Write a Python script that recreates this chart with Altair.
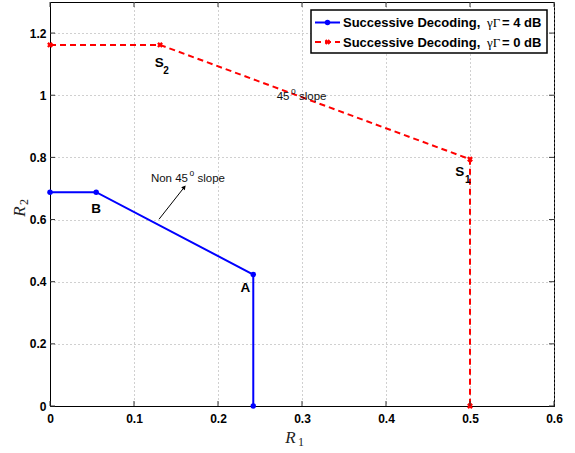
import altair as alt
import pandas as pd

# ---- data ----
blue_r1 = [0.0, 0.055, 0.242, 0.242]
blue_r2 = [0.688, 0.688, 0.423, 0.0]
red_r1 = [0.0, 0.131, 0.5, 0.5]
red_r2 = [1.162, 1.162, 0.794, 0.0]
x_ticks = [0, 0.1, 0.2, 0.3, 0.4, 0.5, 0.6]
y_ticks = [0, 0.2, 0.4, 0.6, 0.8, 1.0, 1.2]
legend_prefix = ["Successive Decoding,", "Successive Decoding,"]
legend_greek = ["γΓ", "γΓ"]
legend_suffix = ["= 4 dB", "= 0 dB"]

# point labels (data coordinates)
lab_text = ["A", "B", "S", "S"]
lab_x = [0.2325, 0.0548, 0.1301, 0.4877]
lab_y = [0.366, 0.6215, 1.091, 0.7395]
sub_text = ["2", "1"]
sub_x = [0.1349, 0.494]
sub_y = [1.0697, 0.716]

W, H = 504, 404
xs = alt.Scale(domain=[0, 0.6], nice=False, zero=False)
ys = alt.Scale(domain=[0, 1.3], nice=False, zero=False)
ax_x = alt.Axis(values=x_ticks, format="~g", title=None, grid=True, ticks=False,
                tickSize=0, labelPadding=7, labelFont="Liberation Sans",
                labelFontWeight="bold", labelFontSize=12, labelColor="black",
                gridColor="#a0a0a0", gridDash=[1, 3], gridWidth=1,
                domainColor="black", domainWidth=1, labelFlush=False)
ax_y = alt.Axis(values=y_ticks, format="~g", title=None, grid=True, ticks=False,
                tickSize=0, labelPadding=4, labelFont="Liberation Sans",
                labelFontWeight="bold", labelFontSize=12, labelColor="black",
                gridColor="#a0a0a0", gridDash=[1, 3], gridWidth=1,
                domainColor="black", domainWidth=1, labelFlush=False)


def X(f):
    return alt.X(f + ":Q", scale=xs, axis=ax_x)


def Y(f):
    return alt.Y(f + ":Q", scale=ys, axis=ax_y)


blue = pd.DataFrame({"R1": blue_r1, "R2": blue_r2, "o": list(range(len(blue_r1)))})
red = pd.DataFrame({"R1": red_r1, "R2": red_r2, "o": list(range(len(red_r1)))})

blue_line = alt.Chart(blue).mark_line(color="#0000ff", strokeWidth=2).encode(
    x=X("R1"), y=Y("R2"), order="o:Q")
blue_pts = alt.Chart(blue).mark_point(shape="circle", filled=True, color="#0000ff",
                                      size=30, opacity=1).encode(x=X("R1"), y=Y("R2"))
red_line = alt.Chart(red).mark_line(color="#ff0000", strokeWidth=2,
                                    strokeDash=[6, 4]).encode(
    x=X("R1"), y=Y("R2"), order="o:Q")
red_pts = alt.Chart(red).mark_point(shape="cross", angle=45, filled=True,
                                    color="#ff0000", size=35, opacity=1).encode(
    x=X("R1"), y=Y("R2"))

# inner ticks on all four sides
xt = pd.DataFrame({"v": x_ticks})
yt = pd.DataFrame({"v": y_ticks})
tick_col = "#333333"
xt_bot = alt.Chart(xt).mark_rule(color=tick_col, strokeWidth=1).encode(
    x=X("v"), y=alt.value(H), y2=alt.value(H - 5))
xt_top = alt.Chart(xt).mark_rule(color=tick_col, strokeWidth=1).encode(
    x=X("v"), y=alt.value(0), y2=alt.value(5))
yt_l = alt.Chart(yt).mark_rule(color=tick_col, strokeWidth=1).encode(
    y=Y("v"), x=alt.value(0), x2=alt.value(5))
yt_r = alt.Chart(yt).mark_rule(color=tick_col, strokeWidth=1).encode(
    y=Y("v"), x=alt.value(W), x2=alt.value(W - 5))

# point labels
labs = pd.DataFrame({"t": lab_text, "x": lab_x, "y": lab_y})
subs = pd.DataFrame({"t": sub_text, "x": sub_x, "y": sub_y})
lab_layer = alt.Chart(labs).mark_text(font="Liberation Sans", fontWeight="bold",
                                      fontSize=13.5, baseline="alphabetic",
                                      align="center", color="black").encode(
    x=X("x"), y=Y("y"), text="t:N")
sub_layer = alt.Chart(subs).mark_text(font="Liberation Sans", fontWeight="bold",
                                      fontSize=10, baseline="alphabetic",
                                      align="left", color="black").encode(
    x=X("x"), y=Y("y"), text="t:N")

# slope annotations
ann = pd.DataFrame({"x": [0.2851, 0.1643], "y": [0.986, 0.721],
                    "pre": ["45", "Non 45"]})
ann_pre = alt.Chart(ann).mark_text(font="Liberation Sans", fontSize=11.5,
                                   align="right", baseline="alphabetic",
                                   color="#111").encode(x=X("x"), y=Y("y"), text="pre:N")
ann_o = alt.Chart(ann).mark_text(font="Liberation Sans", fontSize=8.5, align="left",
                                 baseline="alphabetic", dx=1.5, dy=-6,
                                 color="#111").encode(x=X("x"), y=Y("y"), text=alt.value("o"))
ann_post = alt.Chart(ann).mark_text(font="Liberation Sans", fontSize=11.5,
                                    align="left", baseline="alphabetic", dx=9.5,
                                    color="#111").encode(x=X("x"), y=Y("y"),
                                                         text=alt.value("slope"))

arrow = pd.DataFrame({"x": [0.1298, 0.1599], "y": [0.601, 0.7042]})
arrow_line = alt.Chart(arrow).mark_line(color="black", strokeWidth=1).encode(
    x=X("x"), y=Y("y"))
arrow_head = alt.Chart(arrow.iloc[[1]]).mark_point(shape="triangle-up", angle=41,
                                                   filled=True, color="black",
                                                   size=22, opacity=1,
                                                   dx=-1.5, dy=2).encode(
    x=X("x"), y=Y("y"))

# axis titles (R with subscripts)
one = pd.DataFrame({"a": [0]})
r1_R = alt.Chart(one).mark_text(font="Liberation Serif", fontStyle="italic",
                                fontSize=17, align="center", baseline="alphabetic",
                                color="#222").encode(x=alt.value(240.5), y=alt.value(441),
                                                     text=alt.value("R"))
r1_s = alt.Chart(one).mark_text(font="Liberation Serif", fontSize=12, align="left",
                                baseline="alphabetic", color="#222").encode(
    x=alt.value(248), y=alt.value(444), text=alt.value("1"))
r2_R = alt.Chart(one).mark_text(font="Liberation Serif", fontStyle="italic",
                                fontSize=17, align="center", baseline="alphabetic",
                                angle=270, color="#222").encode(
    x=alt.value(-25), y=alt.value(209.5), text=alt.value("R"))
r2_s = alt.Chart(one).mark_text(font="Liberation Serif", fontSize=12, align="left",
                                baseline="alphabetic", angle=270, color="#222").encode(
    x=alt.value(-22), y=alt.value(203), text=alt.value("2"))

# manual legend
leg_box = alt.Chart(one).mark_rect(fill="white", stroke="black", strokeWidth=1.5).encode(
    x=alt.value(261), x2=alt.value(497), y=alt.value(8), y2=alt.value(51))
rows = [20.5, 40.0]
leg_layers = [leg_box]
for i, (col, dash, shape, ang) in enumerate([("#0000ff", [1, 0], "circle", 0),
                                             ("#ff0000", [6, 4], "cross", 45)]):
    yy = rows[i]
    leg_layers.append(alt.Chart(one).mark_rule(color=col, strokeWidth=2,
                                               strokeDash=dash).encode(
        x=alt.value(265), x2=alt.value(290), y=alt.value(yy)))
    leg_layers.append(alt.Chart(one).mark_point(shape=shape, angle=ang, filled=True,
                                                color=col, size=30, opacity=1).encode(
        x=alt.value(277.5), y=alt.value(yy)))
    leg_layers.append(alt.Chart(one).mark_text(font="Liberation Sans", fontWeight="bold",
                                               fontSize=13, align="left",
                                               baseline="alphabetic", color="black").encode(
        x=alt.value(293), y=alt.value(yy + 4.5), text=alt.value(legend_prefix[i])))
    leg_layers.append(alt.Chart(one).mark_text(font="Liberation Serif", fontSize=13,
                                               align="left", baseline="alphabetic",
                                               color="black").encode(
        x=alt.value(437), y=alt.value(yy + 4.5), text=alt.value(legend_greek[i])))
    leg_layers.append(alt.Chart(one).mark_text(font="Liberation Sans", fontWeight="bold",
                                               fontSize=13, align="left",
                                               baseline="alphabetic", color="black").encode(
        x=alt.value(452), y=alt.value(yy + 4.5), text=alt.value(legend_suffix[i])))

chart = alt.layer(
    blue_line, red_line, blue_pts, red_pts,
    xt_bot, xt_top, yt_l, yt_r,
    lab_layer, sub_layer, ann_pre, ann_o, ann_post, arrow_line, arrow_head,
    r1_R, r1_s, r2_R, r2_s, *leg_layers
).properties(
    width=W, height=H,
    autosize=alt.AutoSizeParams(type="none"),
    padding={"left": 50, "top": 2, "right": 21, "bottom": 47},
    background="white"
).configure_view(stroke="black", strokeWidth=1)

chart.save("out.html", embed_options={"renderer": "svg", "actions": False})
